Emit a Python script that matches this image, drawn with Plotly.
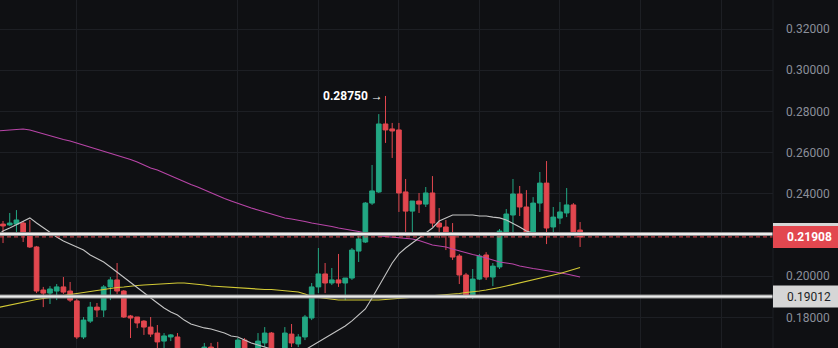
import plotly.graph_objects as go

# ---- data ----
candle_idx = list(range(87))
opens = [0.2253,0.2249,0.2253,0.2258,0.2200,0.2142,0.1933,0.1918,0.1928,0.1948,
         0.1928,0.1880,0.1705,0.1782,0.1850,0.1836,0.1948,0.1982,0.1928,0.1807,
         0.1802,0.1782,0.1753,0.1724,0.1685,0.1705,0.1705,0.1593,0.1560,0.1590,
         0.1620,0.1656,0.1640,0.1620,0.1590,0.1640,0.1690,0.1630,0.1610,0.1676,
         0.1724,0.1630,0.1645,0.1719,0.1671,0.1705,0.1797,0.1948,0.2011,0.1967,
         0.1982,0.1967,0.1991,0.2122,0.2166,0.2355,0.2409,0.2739,0.2715,0.2710,
         0.2409,0.2316,0.2365,0.2350,0.2404,0.2258,0.2239,0.2205,0.2098,0.2006,
         0.1904,0.1986,0.2103,0.1996,0.2045,0.2215,0.2297,0.2399,0.2336,0.2210,
         0.2355,0.2452,0.2239,0.2282,0.2307,0.2346,0.2224]
highs = [0.2268,0.2307,0.2321,0.2268,0.2273,0.2147,0.1948,0.1952,0.1962,0.1996,
         0.1972,0.1889,0.1802,0.1875,0.1870,0.1957,0.1996,0.2064,0.1933,0.1812,
         0.1802,0.1787,0.1802,0.1763,0.1724,0.1719,0.1724,0.1620,0.1630,0.1645,
         0.1676,0.1676,0.1681,0.1645,0.1648,0.1700,0.1700,0.1645,0.1724,0.1753,
         0.1729,0.1650,0.1753,0.1768,0.1719,0.1812,0.1967,0.2137,0.2064,0.2040,
         0.2108,0.1991,0.2137,0.2219,0.2360,0.2540,0.2787,0.2875,0.2744,0.2744,
         0.2472,0.2365,0.2404,0.2433,0.2486,0.2331,0.2273,0.2258,0.2108,0.2016,
         0.2035,0.2108,0.2117,0.2064,0.2229,0.2326,0.2472,0.2438,0.2418,0.2384,
         0.2506,0.2559,0.2336,0.2360,0.2428,0.2355,0.2263]
lows = [0.2161,0.2244,0.2210,0.2166,0.2137,0.1918,0.1850,0.1865,0.1884,0.1914,
        0.1875,0.1695,0.1695,0.1773,0.1802,0.1802,0.1884,0.1914,0.1797,0.1700,
        0.1748,0.1715,0.1705,0.1633,0.1641,0.1685,0.1569,0.1540,0.1530,0.1570,
        0.1600,0.1610,0.1600,0.1570,0.1575,0.1620,0.1610,0.1585,0.1595,0.1656,
        0.1610,0.1600,0.1630,0.1656,0.1656,0.1690,0.1787,0.1918,0.1918,0.1957,
        0.1948,0.1884,0.1982,0.2069,0.2161,0.2346,0.2404,0.2647,0.2574,0.2312,
        0.2215,0.2210,0.2307,0.2336,0.2239,0.2185,0.2127,0.2079,0.1962,0.1889,
        0.1889,0.1982,0.1982,0.1952,0.2035,0.2200,0.2210,0.2292,0.2200,0.2190,
        0.2312,0.2156,0.2210,0.2253,0.2287,0.2200,0.2142]
closes = [0.2244,0.2258,0.2273,0.2210,0.2142,0.1928,0.1918,0.1938,0.1948,0.1923,
          0.1884,0.1705,0.1787,0.1850,0.1836,0.1948,0.1982,0.1928,0.1802,0.1797,
          0.1773,0.1753,0.1719,0.1681,0.1710,0.1715,0.1593,0.1560,0.1590,0.1625,
          0.1656,0.1630,0.1620,0.1590,0.1640,0.1690,0.1630,0.1600,0.1685,0.1724,
          0.1630,0.1645,0.1724,0.1676,0.1705,0.1802,0.1948,0.2011,0.1967,0.1982,
          0.1967,0.1991,0.2127,0.2181,0.2355,0.2414,0.2739,0.2710,0.2705,0.2404,
          0.2316,0.2365,0.2350,0.2404,0.2258,0.2239,0.2205,0.2093,0.2006,0.1904,
          0.1986,0.2098,0.1996,0.2049,0.2219,0.2302,0.2399,0.2336,0.2210,0.2355,
          0.2452,0.2234,0.2287,0.2312,0.2346,0.2215,0.21908]

ma_idx = list(range(-1, 87))
ma_fast = [0.2195,0.2219,0.2234,0.2249,0.2268,0.2283,0.2258,0.2234,0.2210,0.2190,
           0.2171,0.2156,0.2142,0.2127,0.2103,0.2088,0.2069,0.2045,0.2020,0.1991,
           0.1967,0.1943,0.1918,0.1894,0.1870,0.1846,0.1826,0.1812,0.1787,0.1768,
           0.1758,0.1749,0.1744,0.1734,0.1724,0.1710,0.1705,0.1690,0.1676,0.1666,
           0.1656,0.1647,0.1637,0.1627,0.1622,0.1627,0.1642,0.1661,0.1681,0.1700,
           0.1719,0.1739,0.1758,0.1783,0.1812,0.1841,0.1894,0.1952,0.2011,0.2064,
           0.2108,0.2137,0.2161,0.2186,0.2210,0.2234,0.2268,0.2283,0.2297,0.2297,
           0.2297,0.2297,0.2292,0.2292,0.2287,0.2283,0.2273,0.2258,0.2239,0.2219,
           0.2210,0.2210,0.2208,0.2210,0.2210,0.2210,0.2210,0.2210]
ma_mid = [0.18456,0.18529,0.18602,0.18675,0.18723,0.18796,0.18869,0.18918,0.18966,0.19015,
          0.19063,0.19112,0.19160,0.19209,0.19257,0.19330,0.19379,0.19427,0.19452,0.19476,
          0.19524,0.19549,0.19573,0.19597,0.19622,0.19646,0.19646,0.19670,0.19670,0.19646,
          0.19622,0.19573,0.19524,0.19500,0.19476,0.19452,0.19427,0.19427,0.19403,0.19379,
          0.19354,0.19354,0.19330,0.19306,0.19282,0.19233,0.19136,0.19015,0.18966,0.18918,
          0.18869,0.18845,0.18845,0.18845,0.18821,0.18821,0.18821,0.18845,0.18869,0.18893,
          0.18942,0.18966,0.18990,0.19015,0.19039,0.19063,0.19087,0.19112,0.19136,0.19160,
          0.19209,0.19233,0.19282,0.19330,0.19379,0.19452,0.19524,0.19597,0.19670,0.19743,
          0.19816,0.19913,0.19986,0.20058,0.20131,0.20228,0.20325,0.20422]
ma_slow = [0.27049,0.27073,0.27097,0.27146,0.27146,0.27097,0.27000,0.26903,0.26806,0.26709,
           0.26636,0.26563,0.26466,0.26369,0.26272,0.26175,0.26078,0.25981,0.25884,0.25787,
           0.25665,0.25544,0.25398,0.25253,0.25156,0.25010,0.24864,0.24719,0.24573,0.24452,
           0.24330,0.24185,0.24039,0.23893,0.23772,0.23651,0.23529,0.23432,0.23311,0.23214,
           0.23117,0.22995,0.22898,0.22825,0.22777,0.22728,0.22656,0.22583,0.22534,0.22486,
           0.22413,0.22340,0.22291,0.22243,0.22170,0.22097,0.22024,0.21952,0.21927,0.21903,
           0.21855,0.21830,0.21806,0.21733,0.21636,0.21515,0.21466,0.21418,0.21321,0.21223,
           0.21126,0.21054,0.20981,0.20884,0.20787,0.20689,0.20641,0.20592,0.20495,0.20422,
           0.20374,0.20325,0.20277,0.20204,0.20155,0.20107,0.20034,0.19961]

y_ticks = [0.18, 0.20, 0.24, 0.26, 0.28, 0.30, 0.32]
y_tick_text = ["0.18000", "0.20000", "0.24000", "0.26000", "0.28000", "0.30000", "0.32000"]
x_grid = [11, 35, 47, 59, 71, 83, 95, 107]
level_upper = 0.2205
level_lower = 0.19012
last_price = 0.21908
peak_idx = 57
peak_price = 0.28750

BG = "#0f1013"
GRID = "#1d1f24"
UP = "#22a783"
DOWN = "#e2474f"

fig = go.Figure()
fig.add_trace(go.Candlestick(
    x=candle_idx, open=opens, high=highs, low=lows, close=closes,
    increasing=dict(line=dict(color=UP, width=1), fillcolor=UP),
    decreasing=dict(line=dict(color=DOWN, width=1), fillcolor=DOWN),
    whiskerwidth=0, hoverinfo="skip", showlegend=False))
fig.add_trace(go.Scatter(x=ma_idx, y=ma_slow, mode="lines",
                         line=dict(color="#b945a8", width=1.1), hoverinfo="skip", showlegend=False))
fig.add_trace(go.Scatter(x=ma_idx, y=ma_mid, mode="lines",
                         line=dict(color="#d2c935", width=1.2), hoverinfo="skip", showlegend=False))
fig.add_trace(go.Scatter(x=ma_idx, y=ma_fast, mode="lines",
                         line=dict(color="#c4c4c4", width=1.1), hoverinfo="skip", showlegend=False))

AXW = 65
PW = 838 - AXW
px_x1 = 1 + AXW / PW

shapes = []
# horizontal levels
for lv in (level_upper, level_lower):
    shapes.append(dict(type="line", xref="paper", x0=0, x1=1, yref="y", y0=lv, y1=lv,
                       line=dict(color="#8d8d8d", width=4), layer="above"))
    shapes.append(dict(type="line", xref="paper", x0=0, x1=1, yref="y", y0=lv, y1=lv,
                       line=dict(color="#ececec", width=2), layer="above"))
shapes.append(dict(type="line", xref="paper", x0=0, x1=1, yref="y", y0=last_price, y1=last_price,
                   line=dict(color=DOWN, width=1, dash="4px,3px"), layer="above"))
# axis separator
shapes.append(dict(type="line", xref="paper", x0=1, x1=1, yref="paper", y0=0, y1=1,
                   line=dict(color="#1d1f24", width=1), layer="above"))
# price labels
for lv, col in ((level_upper, "#d6d6d6"), (level_lower, "#d6d6d6"), (last_price, "#e2474f")):
    shapes.append(dict(type="rect", xref="paper", x0=1, x1=px_x1, yref="y",
                       ysizemode="pixel", yanchor=lv, y0=-11, y1=11,
                       fillcolor=col, line=dict(width=0), layer="above"))

annotations = [
    dict(xref="paper", x=1, xanchor="left", xshift=12, yref="y", y=last_price, yanchor="middle",
         text="<b>%.5f</b>" % last_price, showarrow=False,
         font=dict(family="Roboto", size=12, color="#ffffff")),
    dict(xref="paper", x=1, xanchor="left", xshift=12, yref="y", y=level_lower, yanchor="middle",
         text="%.5f" % level_lower, showarrow=False,
         font=dict(family="Roboto", size=12, color="#1c1f26")),
    dict(xref="x", x=peak_idx, xanchor="right", xshift=0, yref="y", y=peak_price, yanchor="middle",
         text="<b>%.5f →</b>" % peak_price, showarrow=False,
         font=dict(family="Roboto", size=12, color="#ffffff")),
]

fig.update_layout(
    width=838, height=348, margin=dict(l=0, r=AXW, t=0, b=0),
    paper_bgcolor=BG, plot_bgcolor=BG,
    shapes=shapes, annotations=annotations, showlegend=False,
    boxgap=0.3, boxgroupgap=0.0,
    xaxis=dict(range=[-0.45, 114.75], rangeslider=dict(visible=False),
               tickvals=x_grid, showticklabels=False, showgrid=True, gridcolor=GRID,
               gridwidth=1, zeroline=False, showline=False, ticks=""),
    yaxis=dict(side="right", range=[0.16515, 0.33408], tickvals=y_ticks, ticktext=y_tick_text,
               showgrid=True, gridcolor=GRID, gridwidth=1, zeroline=False, ticks="",
               ticklabelstandoff=12, tickfont=dict(family="Roboto", size=12, color="#8b8f9a")),
)
# add the hidden gridline at 0.22 (under level line)
fig.add_shape(type="line", xref="paper", x0=0, x1=1, yref="y", y0=0.22, y1=0.22,
              line=dict(color=GRID, width=1), layer="below")

fig.write_html("out.html", config={"displayModeBar": False})
